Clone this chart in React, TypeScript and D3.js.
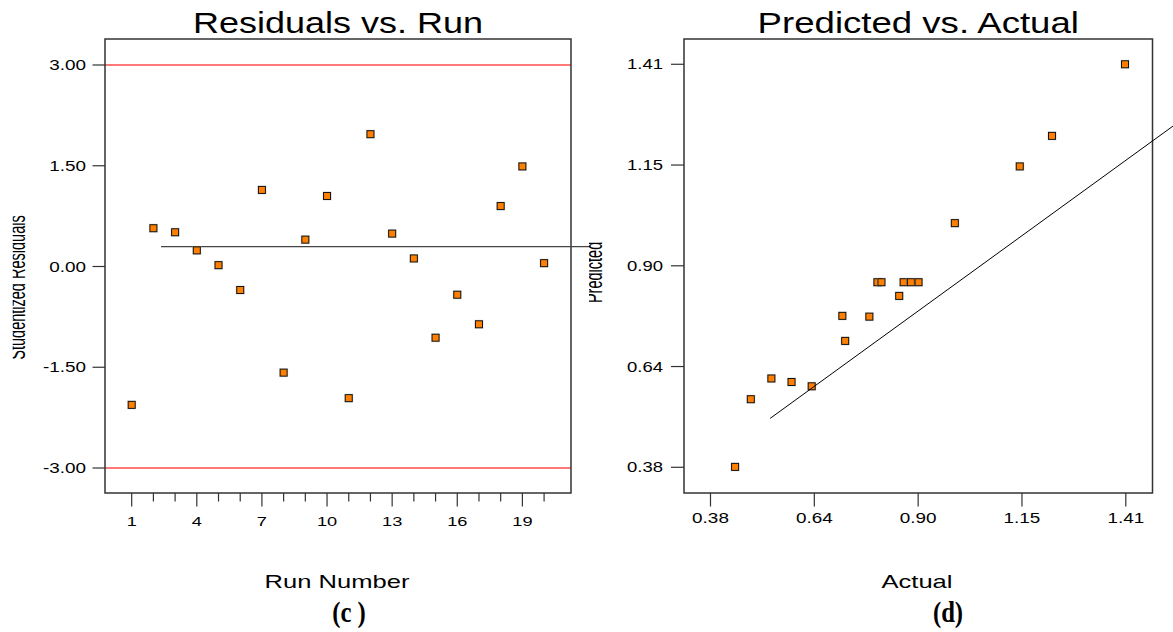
import React from "react";
import * as d3 from "d3";

// ---------- data ----------
const runs = [1, 2, 3, 4, 5, 6, 7, 8, 9, 10, 11, 12, 13, 14, 15, 16, 17, 18, 19, 20];
const studentizedResiduals = [-2.06, 0.57, 0.51, 0.24, 0.02, -0.35, 1.14, -1.58, 0.4, 1.05, -1.96, 1.97, 0.49, 0.12, -1.06, -0.42, -0.86, 0.9, 1.49, 0.05];
const resYTicks = [3, 1.5, 0, -1.5, -3];
const resYTickLabels = ["3.00", "1.50", "0.00", "-1.50", "-3.00"];
const runMajorTicks = [1, 4, 7, 10, 13, 16, 19];
const runMinorTicks = [2, 3, 5, 6, 8, 9, 11, 12, 14, 15, 17, 18, 20];
const limitLines = [3, -3];
const resRefLineRun = [2.35, 22.12];
const resRefLineValue = [0.295, 0.295];

const actual = [0.441, 0.48, 0.531, 0.581, 0.631, 0.707, 0.714, 0.774, 0.794, 0.804, 0.848, 0.859, 0.877, 0.896, 0.986, 1.147, 1.227, 1.408];
const predicted = [0.381, 0.554, 0.607, 0.598, 0.587, 0.767, 0.703, 0.765, 0.853, 0.853, 0.818, 0.853, 0.853, 0.853, 1.004, 1.149, 1.227, 1.41];
const pvTicks = [0.38, 0.6375, 0.895, 1.1525, 1.41];
const pvTickLabels = ["0.38", "0.64", "0.90", "1.15", "1.41"];
const fitActual = [0.528, 1.527];
const fitPredicted = [0.505, 1.252];

// ---------- layout ----------
const W = 1173;
const H = 632;
const LF = { x0: 105, x1: 571, y0: 39, y1: 493 };
const RF = { x0: 684, x1: 1152.5, y0: 39, y1: 493 };

const xRun = d3.scaleLinear().domain([-0.23, 21.24]).range([LF.x0, LF.x1]);
const yRes = d3.scaleLinear().domain([-3.372, 3.387]).range([LF.y1, LF.y0]);
const xAct = d3.scaleLinear().domain([0.3143, 1.4762]).range([RF.x0, RF.x1]);
const yPred = d3.scaleLinear().domain([0.3143, 1.4746]).range([RF.y1, RF.y0]);

const SANS = '"Liberation Sans", Arial, Helvetica, sans-serif';
const SERIF = '"Liberation Serif", "Times New Roman", serif';
const ORANGE = "#FF8000";
const FRAME = "#333";

function T({ x, y, size, sx = 1, sy = 1, anchor = "middle", weight, family = SANS, children }: any) {
  return (
    <text
      transform={`translate(${x},${y}) scale(${sx},${sy})`}
      fontSize={size}
      textAnchor={anchor}
      fontFamily={family}
      fontWeight={weight}
      fill="#000"
    >
      {children}
    </text>
  );
}

function Marker({ cx, cy }: { cx: number; cy: number }) {
  return (
    <g>
      <rect x={cx - 4.5} y={cy - 4.5} width={9} height={9} fill="#bbb" opacity={0.5} />
      <rect x={cx - 3.5} y={cy - 3.5} width={7} height={7} fill={ORANGE} stroke="#111" strokeWidth={1} />
    </g>
  );
}

export default function App() {
  const resLine = d3
    .line<number>()
    .x((_, i) => xRun(resRefLineRun[i]))
    .y((d) => yRes(d));
  const fitLine = d3
    .line<number>()
    .x((_, i) => xAct(fitActual[i]))
    .y((d) => yPred(d));

  return (
    <svg
      width={W}
      height={H}
      style={{ position: "absolute", left: 0, top: 0, background: "#fff" }}
    >
      <defs>
        <clipPath id="clipLeftTitle">
          <rect x={12.7} y={150} width={20} height={280} />
        </clipPath>
        <clipPath id="clipRightTitle">
          <rect x={589} y={180} width={20} height={180} />
        </clipPath>
      </defs>
      <rect x={0} y={0} width={W} height={H} fill="#fff" />

      {/* ================= LEFT PANEL ================= */}
      <T x={(LF.x0 + LF.x1) / 2} y={33} size={30} sx={1.2}>
        Residuals vs. Run
      </T>

      {limitLines.map((v) => (
        <line key={v} x1={LF.x0} x2={LF.x1} y1={yRes(v)} y2={yRes(v)} stroke="#FF4D4D" strokeWidth={1.3} />
      ))}

      {/* y ticks */}
      {resYTicks.map((v, i) => (
        <g key={v}>
          <line x1={LF.x0 - 12.5} x2={LF.x0} y1={yRes(v)} y2={yRes(v)} stroke={FRAME} strokeWidth={1.2} />
          <T x={LF.x0 - 19} y={yRes(v) + 5} size={14} sx={1.35} anchor="end">
            {resYTickLabels[i]}
          </T>
        </g>
      ))}

      {/* x ticks */}
      {runMajorTicks.map((v) => (
        <g key={v}>
          <line x1={xRun(v)} x2={xRun(v)} y1={LF.y1} y2={LF.y1 + 13.5} stroke={FRAME} strokeWidth={1.2} />
          <T x={xRun(v)} y={526} size={13} sx={1.4}>
            {String(v)}
          </T>
        </g>
      ))}
      {runMinorTicks.map((v) => (
        <line key={v} x1={xRun(v)} x2={xRun(v)} y1={LF.y1} y2={LF.y1 + 8.5} stroke={FRAME} strokeWidth={1.2} />
      ))}

      <rect x={LF.x0} y={LF.y0} width={LF.x1 - LF.x0} height={LF.y1 - LF.y0} fill="none" stroke={FRAME} strokeWidth={1.5} />

      <path d={resLine(resRefLineValue) || ""} stroke="#444" strokeWidth={1.2} fill="none" />

      {runs.map((r, i) => (
        <Marker key={r} cx={xRun(r)} cy={yRes(studentizedResiduals[i])} />
      ))}

      {/* y title (clipped) */}
      <g clipPath="url(#clipLeftTitle)">
        <text
          transform="translate(25,287.5) rotate(-90) scale(0.66,1.05)"
          fontSize={22}
          textAnchor="middle"
          fontFamily={SANS}
          fill="#000"
        >
          Studentized Residuals
        </text>
      </g>

      <T x={337} y={588} size={18} sx={1.42}>
        Run Number
      </T>
      <T x={349} y={622} size={26} sx={0.95} sy={1.1} weight="bold" family={SERIF}>
        (c )
      </T>

      {/* ================= RIGHT PANEL ================= */}
      <T x={(RF.x0 + RF.x1) / 2} y={33} size={30} sx={1.22}>
        Predicted vs. Actual
      </T>

      {pvTicks.map((v, i) => (
        <g key={"y" + v}>
          <line x1={RF.x0 - 13} x2={RF.x0} y1={yPred(v)} y2={yPred(v)} stroke={FRAME} strokeWidth={1.2} />
          <T x={RF.x0 - 21} y={yPred(v) + 5} size={14} sx={1.32} anchor="end">
            {pvTickLabels[i]}
          </T>
        </g>
      ))}
      {pvTicks.map((v, i) => (
        <g key={"x" + v}>
          <line x1={xAct(v)} x2={xAct(v)} y1={RF.y1} y2={RF.y1 + 13.5} stroke={FRAME} strokeWidth={1.2} />
          <T x={xAct(v)} y={523} size={14} sx={1.35}>
            {pvTickLabels[i]}
          </T>
        </g>
      ))}

      <rect x={RF.x0} y={RF.y0} width={RF.x1 - RF.x0} height={RF.y1 - RF.y0} fill="none" stroke={FRAME} strokeWidth={1.5} />

      {actual.map((a, i) => (
        <Marker key={i} cx={xAct(a)} cy={yPred(predicted[i])} />
      ))}

      <path d={fitLine(fitPredicted) || ""} stroke="#000" strokeWidth={1} fill="none" />

      <g clipPath="url(#clipRightTitle)">
        <text
          transform="translate(601.7,272.4) rotate(-90) scale(0.66,1.05)"
          fontSize={22}
          textAnchor="middle"
          fontFamily={SANS}
          fill="#000"
        >
          Predicted
        </text>
      </g>

      <T x={917} y={588} size={18} sx={1.42}>
        Actual
      </T>
      <T x={948} y={622} size={26} sx={0.95} sy={1.1} weight="bold" family={SERIF}>
        (d)
      </T>
    </svg>
  );
}
